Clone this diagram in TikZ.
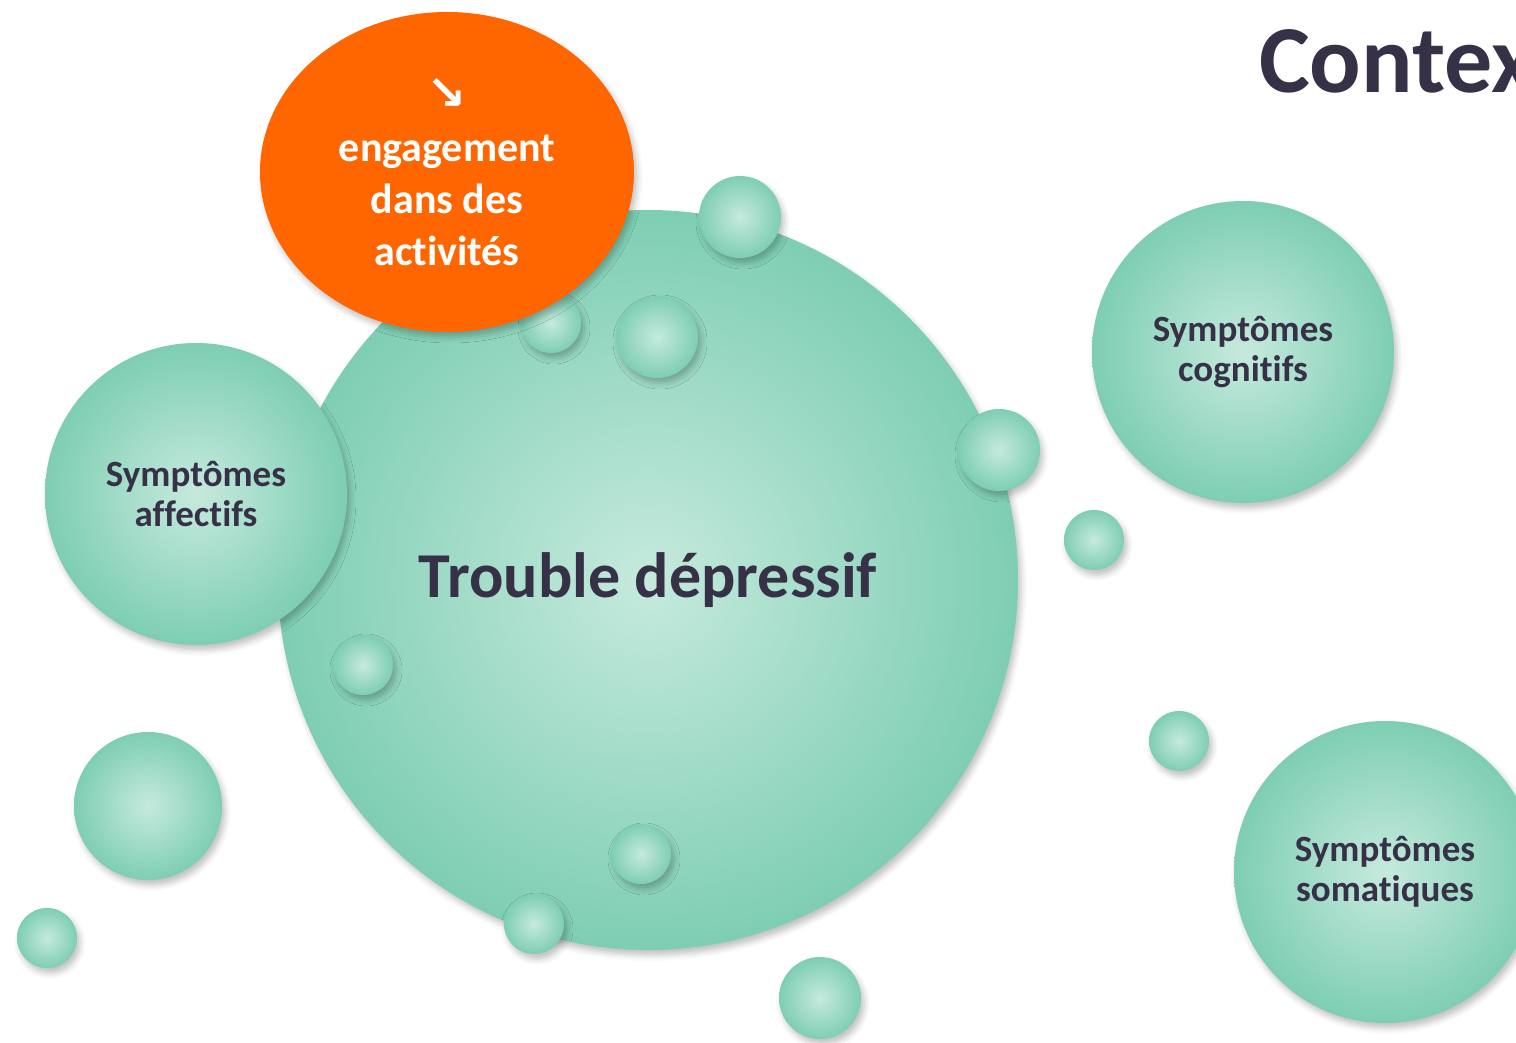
\documentclass[tikz,border=0pt]{standalone}
\usepackage{fontspec}
\setmainfont{Carlito}[Ligatures=NoCommon]
\newfontfamily\arrowfont{DejaVu Sans}
\usetikzlibrary{shapes.geometric,shadows.blur}
\definecolor{teallight}{RGB}{198,234,221}
\definecolor{tealdark}{RGB}{126,206,179}
\definecolor{orangefill}{RGB}{255,102,0}
\definecolor{inkdark}{RGB}{54,49,70}
\begin{document}
\begin{tikzpicture}[x=0.5pt, y=-0.5pt,
    soft shadow/.style={blur shadow={shadow xshift=1.5pt, shadow yshift=-2.5pt, shadow blur radius=3pt, shadow opacity=25}},
    bubble/.style={circle, minimum size=#1pt, inner sep=0pt, shade, shading=radial, inner color=teallight, outer color=tealdark, soft shadow},
    symptom/.style={bubble=151, text=inkdark, align=center, font=\bfseries\fontsize{18.5}{20}\selectfont}]
  \useasboundingbox (0,0) rectangle (1516,1043);
  \node[bubble=370, text=inkdark, font=\bfseries\fontsize{32}{36}\selectfont] (trouble) at (648,580) {Trouble dépressif};
  \node[symptom] (affectifs) at (196,494) {Symptômes\\affectifs};
  \node[symptom] (cognitifs) at (1243,352) {Symptômes\\cognitifs};
  \node[symptom] (somatiques) at (1385,872) {Symptômes\\somatiques};
  \foreach \bx/\by/\br [count=\i] in {740/217/41, 657/337/41, 551/323/30, 999/450/41, 1094/540/30, 363/665/30,
      148/806/74, 47/938/30, 641/854/30, 534/924/30, 820/998/41, 1179/741/30}
    \node[bubble=\br] (goutte\i) at (\bx,\by) {};
  \node[ellipse, fill=orangefill, minimum width=187pt, minimum height=160pt, inner sep=0pt, text=white, align=center,
    font=\bfseries\fontsize{21}{26}\selectfont, soft shadow] (engagement) at (447,172)
    {{\arrowfont\bfseries\fontsize{24}{26}\selectfont ↘}\\engagement\\dans des\\activités};
  \node[anchor=base west, text=inkdark, font=\bfseries\fontsize{48}{48}\selectfont] (contexte) at (1252,93) {Contex};
\end{tikzpicture}
\end{document}
